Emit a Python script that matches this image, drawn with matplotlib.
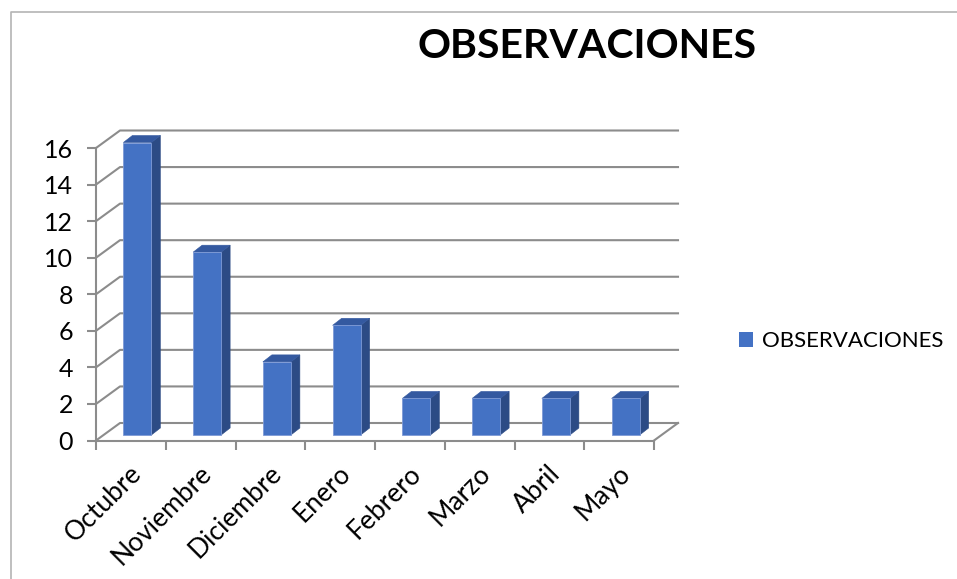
import numpy as np
import matplotlib
matplotlib.use('Agg')
import matplotlib.pyplot as plt
from matplotlib.patches import Polygon, Patch
from matplotlib.lines import Line2D
from matplotlib.transforms import ScaledTranslation

meses = ['Octubre', 'Noviembre', 'Diciembre', 'Enero', 'Febrero', 'Marzo', 'Abril', 'Mayo']
observaciones = [16, 10, 4, 6, 2, 2, 2, 2]
ticks_y = [0, 2, 4, 6, 8, 10, 12, 14, 16]

plt.rcParams['font.family'] = ['Lato', 'DejaVu Sans']

gris = '#8C8C8C'
azul = '#4472C4'
azul_lado = '#2C4B85'
azul_arriba = '#3459A0'

fig = plt.figure(figsize=(9.57, 5.79), dpi=100)
W, H = 957, 579
ax = fig.add_axes([96 / W, (H - 440.5) / H, 558 / W, 292.5 / H])
n = len(meses)
ax.set_xlim(0, n)
ax.set_ylim(0, 16)

# pixeles -> unidades de datos
px_x = n / 558
px_y = 16 / 292.5

# desplazamiento de la pared del fondo (efecto 3D)
fx, fy = 24 * px_x, 17.5 * px_y

# lineas de la pared del fondo y la pared izquierda
for y in ticks_y:
    ax.plot([0, fx, n + fx], [y, y + fy, y + fy], color=gris, lw=1.5, clip_on=False, zorder=1)
# borde derecho del piso
ax.plot([n, n + fx], [0, fy], color=gris, lw=1.5, clip_on=False, zorder=1)

# barras 3D
bx, by = 6.5 * px_x, 5.5 * px_y   # plano de las barras
dx, dy = 9 * px_x, 7 * px_y       # profundidad de cada barra
ancho = 28 * px_x
for i, v in enumerate(observaciones):
    x0 = i + 0.5 - ancho / 2 + bx
    x1 = x0 + ancho
    y0 = by
    y1 = v + by
    frente = Polygon([(x0, y0), (x1, y0), (x1, y1), (x0, y1)], closed=True,
                     facecolor=azul, edgecolor='#7E9AD6', lw=0.6, zorder=3, clip_on=False)
    lado = Polygon([(x1, y0), (x1 + dx, y0 + dy), (x1 + dx, y1 + dy), (x1, y1)], closed=True,
                   facecolor=azul_lado, edgecolor=azul_lado, lw=0.4, zorder=2, clip_on=False)
    arriba = Polygon([(x0, y1), (x1, y1), (x1 + dx, y1 + dy), (x0 + dx, y1 + dy)], closed=True,
                     facecolor=azul_arriba, edgecolor=azul_arriba, lw=0.4, zorder=2, clip_on=False)
    ax.add_patch(lado)
    ax.add_patch(arriba)
    ax.add_patch(frente)

for s in ['top', 'right']:
    ax.spines[s].set_visible(False)
for s in ['left', 'bottom']:
    ax.spines[s].set_color(gris)
    ax.spines[s].set_linewidth(1.5)
    ax.spines[s].set_zorder(1)

ax.set_yticks(ticks_y)
ax.set_yticklabels([str(t) for t in ticks_y], fontsize=18)
ax.set_xticks(np.arange(n + 1))
ax.set_xticklabels([])
ax.tick_params(axis='both', color=gris, width=1.5, length=6.5)
ax.tick_params(axis='y', pad=10)
ax.set_facecolor('none')

# etiquetas de categoria rotadas
off = ScaledTranslation(7 / 100, -29 / 100, fig.dpi_scale_trans)
for i, m in enumerate(meses):
    ax.text(i + 0.5, 0, m, rotation=45, rotation_mode='anchor', ha='right', va='center',
            fontsize=19, transform=ax.transData + off, clip_on=False)

fig.text(587 / W, 1 - 46 / H, 'OBSERVACIONES', ha='center', va='center',
         fontsize=29.5, fontweight='bold')

fig.legend(handles=[Patch(facecolor=azul)], labels=['OBSERVACIONES'], loc='center left',
           bbox_to_anchor=(739 / W, 1 - 341 / H), frameon=False, fontsize=16,
           borderaxespad=0, borderpad=0,
           handlelength=0.64, handleheight=0.64, handletextpad=0.4)

# marco del grafico
fig.add_artist(Line2D([11 / W, 11 / W, 1], [0, 1 - 12 / H, 1 - 12 / H],
                      transform=fig.transFigure, color='#B4B4B4', lw=1.2))

fig.savefig('out.png', dpi=100, facecolor='white')
